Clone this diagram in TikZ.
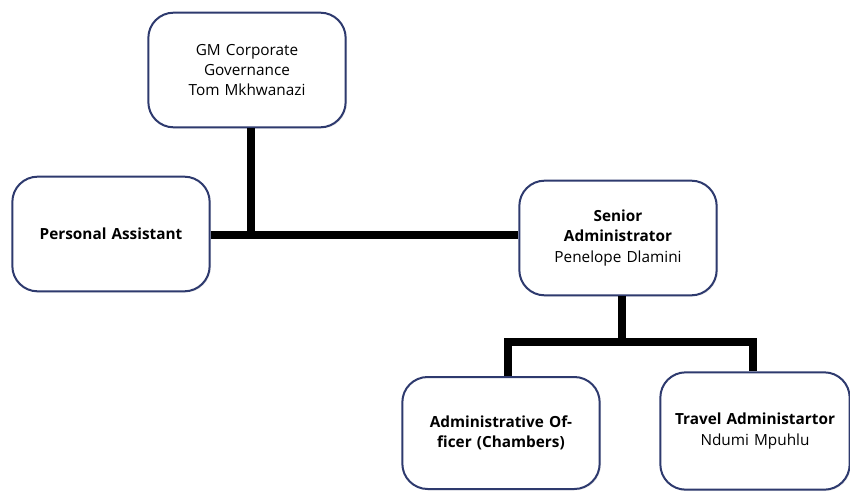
\documentclass[tikz,border=0pt]{standalone}
\usepackage{fontspec}
\setmainfont{Open Sans}
\usetikzlibrary{positioning,shadows}
\definecolor{boxline}{RGB}{46,58,110}
\tikzset{
  post/.style={draw=boxline,line width=1.5pt,fill=white,rounded corners=19pt,
               minimum width=148pt,minimum height=86pt,text width=135pt,
               align=center,font=\fontsize{11.5}{15.3}\selectfont,
               drop shadow={opacity=0.12,shadow xshift=1pt,shadow yshift=-1pt}},
  link/.style={line width=6pt}
}

\begin{document}
\begin{tikzpicture}[x=0.75pt,y=-0.75pt]
  \useasboundingbox (0,0) rectangle (850,493);
  % boxes
  \node[post] (gm) at (247,70) {GM Corporate\\Governance\\Tom Mkhwanazi};
  \node[post] (pa) at (111,234) {\textbf{Personal Assistant}};
  \node[post] (sa) at (618,238) {\textbf{Senior}\\\textbf{Administrator}\\Penelope Dlamini};
  \node[post,minimum height=84pt] (ao) at (501,433) {\textbf{Administrative Of-}\\\textbf{ficer (Chambers)}};
  \node[post,minimum width=142pt,minimum height=88pt] (ta) at (755,431) {\textbf{Travel Administartor}\\Ndumi Mpuhlu};
  % lines
  \coordinate (j1) at (251,235);
  \draw[link] (gm.south -| j1) -- (j1);
  \draw[link] (pa.east |- j1) -- (sa.west |- j1);
  \draw[link] (sa.south -| 622,0) -- ++(0,46) coordinate (j2);
  \draw[link] (ao.north -| 508,0) |- (j2) -| (ta.north -| 753,0);
\end{tikzpicture}
\end{document}
